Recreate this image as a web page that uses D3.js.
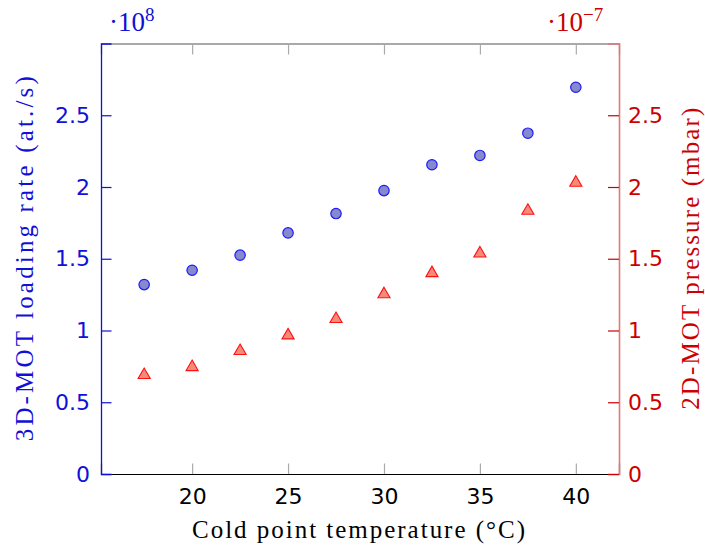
<!DOCTYPE html>
<html>
<head>
<meta charset="utf-8">
<script src="https://cdn.jsdelivr.net/npm/d3@7"></script>
<style>
  html, body { margin: 0; padding: 0; background: #fff; }
  svg { display: block; }
</style>
</head>
<body>
<svg id="chart" width="705" height="547"></svg>
<script>
// ---- data ----
const temperatures = [17.5, 20, 22.5, 25, 27.5, 30, 32.5, 35, 37.5, 40];
const loadingRate = [1.32, 1.42, 1.525, 1.68, 1.815, 1.975, 2.155, 2.22, 2.375, 2.695]; // x 1e8 at./s
const pressure = [0.69, 0.745, 0.857, 0.966, 1.08, 1.253, 1.40, 1.537, 1.834, 2.03];  // x 1e-7 mbar
const xTicks = [20, 25, 30, 35, 40];
const yTicks = [0, 0.5, 1, 1.5, 2, 2.5];
const xLabel = "Cold point temperature (°C)";
const yLeftLabel = "3D-MOT loading rate (at./s)";
const yRightLabel = "2D-MOT pressure (mbar)";

// ---- layout ----
const m = { left: 101, right: 619, top: 43.5, bottom: 474 };
const BLUE = "#1010d8", RED = "#cc0000";
const sansFont = "DejaVu Sans", serifFont = "Liberation Serif";

const svg = d3.select("#chart");
const x = d3.scaleLinear().domain([15.25, 42.25]).range([m.left, m.right]);
const yL = d3.scaleLinear().domain([0, 3]).range([m.bottom, m.top]);
const yR = d3.scaleLinear().domain([0, 3]).range([m.bottom, m.top]);

// bottom axis (ticks inward)
const gx = svg.append("g").attr("transform", `translate(0,${m.bottom})`)
  .call(d3.axisBottom(x).tickValues(xTicks).tickSize(-10.5).tickPadding(14).tickFormat(d3.format("d")));
gx.select(".domain").attr("stroke", "#000").attr("stroke-width", 1.2);
gx.selectAll(".tick line").attr("stroke", "#aaa").attr("stroke-width", 1.2);
gx.selectAll(".tick text").attr("font-family", sansFont).attr("font-size", 22).attr("fill", "#000");

// top axis
const gt = svg.append("g").attr("transform", `translate(0,${m.top})`)
  .call(d3.axisTop(x).tickValues(xTicks).tickSize(-11).tickFormat(""));
gt.select(".domain").attr("stroke", "#555").attr("stroke-width", 1.2);
gt.selectAll(".tick line").attr("stroke", "#aaa").attr("stroke-width", 1.2);

// left axis
const gl = svg.append("g").attr("transform", `translate(${m.left},0)`)
  .call(d3.axisLeft(yL).tickValues(yTicks).tickSize(-10.5).tickPadding(11).tickFormat(d => d3.format("")(d)));
gl.select(".domain").attr("stroke", BLUE).attr("stroke-width", 1.3);
gl.selectAll(".tick line").attr("stroke", BLUE).attr("stroke-width", 1.2);
gl.selectAll(".tick text").attr("font-family", sansFont).attr("font-size", 22).attr("fill", BLUE);

// right axis
const gr = svg.append("g").attr("transform", `translate(${m.right},0)`)
  .call(d3.axisRight(yR).tickValues(yTicks).tickSize(-11).tickPadding(9).tickFormat(d => d3.format("")(d)));
gr.select(".domain").attr("stroke", "#e07878").attr("stroke-width", 1.6);
gr.selectAll(".tick line").attr("stroke", RED).attr("stroke-width", 1.2);
gr.selectAll(".tick text").attr("font-family", sansFont).attr("font-size", 22).attr("fill", RED);
svg.selectAll(".domain").attr("fill", "none");

// scale multipliers
const mL = svg.append("text").attr("x", 109).attr("y", 30.5)
  .attr("font-family", serifFont).attr("font-size", 27).attr("fill", BLUE);
mL.append("tspan").text("·10");
mL.append("tspan").text("8").attr("font-size", 19).attr("dy", -10);

const mR = svg.append("text").attr("x", 547).attr("y", 30.5)
  .attr("font-family", serifFont).attr("font-size", 27).attr("fill", RED);
mR.append("tspan").text("·10");
mR.append("tspan").text("−7").attr("font-size", 19).attr("dy", -10);

// axis labels (CM-like wide spacing)
svg.append("text").attr("x", (m.left + m.right) / 2 - 1.5).attr("y", 538)
  .attr("text-anchor", "middle").attr("font-family", serifFont).attr("font-size", 25)
  .attr("textLength", 333).attr("lengthAdjust", "spacing")
  .attr("fill", "#000").text(xLabel);

svg.append("text")
  .attr("transform", `translate(33,${(m.top + m.bottom) / 2}) rotate(-90)`)
  .attr("text-anchor", "middle").attr("font-family", serifFont).attr("font-size", 25)
  .attr("textLength", 365).attr("lengthAdjust", "spacing")
  .attr("fill", BLUE).text(yLeftLabel);

svg.append("text")
  .attr("transform", `translate(699,${(m.top + m.bottom) / 2}) rotate(-90)`)
  .attr("text-anchor", "middle").attr("font-family", serifFont).attr("font-size", 25)
  .attr("textLength", 302).attr("lengthAdjust", "spacing")
  .attr("fill", RED).text(yRightLabel);

// markers
svg.append("g").selectAll("circle").data(temperatures.map((t, i) => [t, loadingRate[i]]))
  .join("circle")
  .attr("cx", d => x(d[0])).attr("cy", d => yL(d[1])).attr("r", 5.2)
  .attr("fill", "#8888cc").attr("stroke", "#1a1aff").attr("stroke-width", 1.2);

const tri = d3.symbol().type(d3.symbolTriangle).size(Math.pow(7, 2) * 3 * Math.sqrt(3) / 4);
svg.append("g").selectAll("path").data(temperatures.map((t, i) => [t, pressure[i]]))
  .join("path")
  .attr("d", tri)
  .attr("transform", d => `translate(${x(d[0])},${yR(d[1])})`)
  .attr("fill", "#f58a7a").attr("stroke", "#ff1010").attr("stroke-width", 1.1);
</script>
</body>
</html>
